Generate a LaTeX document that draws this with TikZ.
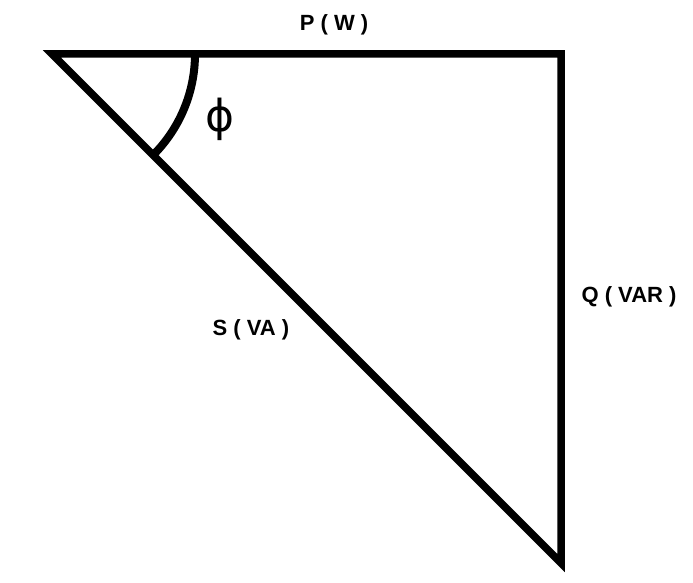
\documentclass[tikz,border=0pt]{standalone}
\usepackage{fontspec}
\setmainfont{Liberation Sans}
\newfontfamily\phifont{DejaVu Sans}
\begin{document}
\begin{tikzpicture}[x=1pt,y=-1pt,
  edge/.style={line width=7.5pt,line join=miter,black},
  lbl/.style={font=\bfseries\fontsize{22}{24}\selectfont,inner sep=0pt}]
\useasboundingbox (0,0) rectangle (693,583);
\coordinate (A) at (52,54);
\coordinate (B) at (561,54);
\coordinate (C) at (561,563);
\draw[edge] (A) -- (B) -- (C) -- cycle;
\draw[line width=8pt] (195,54) arc[start angle=0,end angle=45,radius=143];
\node[lbl] (P) at (334,25) {P ( W )};
\node[lbl] (Q) at (629,297) {Q ( VAR )};
\node[lbl] (S) at (251,330) {S ( VA )};
\node[inner sep=0pt,font=\phifont\fontsize{44}{46}\selectfont] (phi) at (220,119) {ϕ};
\end{tikzpicture}
\end{document}
